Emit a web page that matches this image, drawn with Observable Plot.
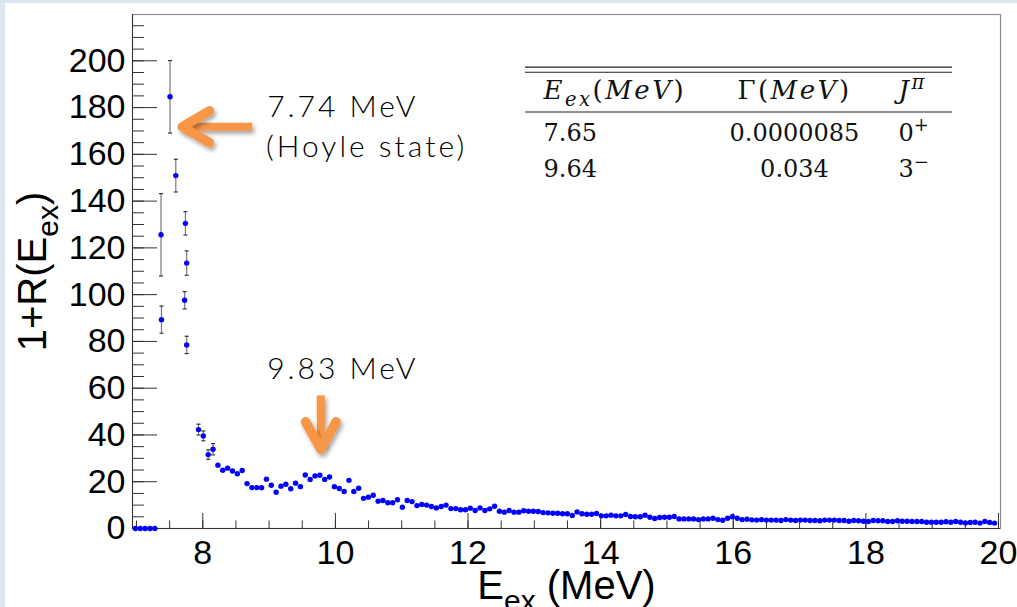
<!DOCTYPE html>
<html><head><meta charset="utf-8">
<script src="https://cdn.jsdelivr.net/npm/d3@7"></script>
<script src="https://cdn.jsdelivr.net/npm/@observablehq/plot@0.6"></script>
<style>
html,body{margin:0;padding:0;background:#dce6f2;width:1017px;height:607px;overflow:hidden;}
#chart{position:absolute;left:5px;top:3px;}
</style></head><body><div id="chart"></div>
<script>
// ---- Data: histogram 1+R(E_ex), ROOT-style binning (178 bins) ----
const histMin = 6.947, histBinWidth = 0.0732;
const histValues = [
  0, 0, 0, 0, 0,
  null, null, null, null, null, null, null, null,
  42.3, 39.6, 31.6, 33.9, 27.1, 24.9, 25.8, 24.6, 23.4, 24.8,
  19.2, 17.5, 17.5, 17.4, 21.1, 18.5, 15.5, 18.1, 18.9, 17.0,
  19.4, 17.9, 22.9, 21.0, 22.5, 22.8, 21.0, 22.0, 17.9, 17.1,
  15.8, 20.6, 15.8, 17.2, 12.9, 13.4, 14.2, 11.7, 12.0, 11.0,
  11.0, 12.3, 9.1, 12.0, 11.5, 9.8, 10.3, 10.0, 9.4, 8.8,
  9.4, 10.0, 8.5, 8.5,
  8.0, 8.0, 8.7, 7.7, 8.8, 7.7, 8.4, 9.5, 7.4, 7.0,
  7.7, 7.0, 7.0, 7.6, 7.4, 7.4, 7.3, 6.8, 6.7, 6.5,
  6.5, 6.3, 6.3, 5.6, 7.1, 6.3, 6.1, 6.1, 6.4, 5.4,
  5.4, 5.7, 5.4, 5.4, 6.0, 5.1, 5.0, 5.0, 5.7, 4.8,
  4.3, 4.7, 4.8, 4.8, 5.1, 4.1, 4.1, 4.1, 4.1, 3.8,
  4.1, 4.1, 4.4, 3.8, 3.5, 4.4, 5.0, 4.4,
  3.8, 4.0, 3.7, 3.6, 3.8, 3.6, 3.6, 3.6, 3.4, 3.8,
  3.6, 3.4, 3.6, 3.6, 3.4, 3.4, 3.3, 3.6, 3.6, 3.6,
  3.4, 3.4, 3.1, 3.4, 3.3, 3.1, 3.0, 3.4, 3.3, 3.3,
  3.0, 3.0, 3.3, 3.1, 3.1, 3.0, 3.0, 3.0, 2.7, 2.7,
  2.7, 2.7, 2.9, 2.7, 3.0, 2.7, 2.4, 2.6, 2.7, 2.3,
  3.0, 2.6, 2.3
];
const histErrBins = [13, 14, 15, 16];
const histErrValues = [2.3, 2.1, 2.0, 2.4];

// Hoyle-state region points (with error bars)
const hoyleE   = [7.370, 7.377, 7.506, 7.593, 7.727, 7.738, 7.757, 7.757];
const hoyleR   = [125.6, 89.3, 184.6, 150.9, 97.6, 130.5, 113.5, 78.5];
const hoyleErr = [17.6, 5.8, 15.5, 7.0, 3.7, 5.0, 5.2, 3.7];

// Axis ticks
const xMajorTicks = [8, 10, 12, 14, 16, 18, 20];
const yMajorTicks = [0, 20, 40, 60, 80, 100, 120, 140, 160, 180, 200];
const xMinorTicks = d3.range(7, 20.01, 0.5);
const yMinorTicks = d3.range(0, 216, 5);

// Texts
const xTitle = "E_{ex} (MeV)";
const yTitle = "1+R(E_{ex})";
const hoyleLabel = ["7.74 MeV", "(Hoyle state)"];
const peakLabel = "9.83 MeV";
const tableHeader = ["*E*_{*ex*}(*MeV*)", "Γ(*MeV*)", "*J*^{*π*}"];
const tableRows = [["7.65", "0.0000085", "0^{+}"], ["9.64", "0.034", "3^{−}"]];

// Annotation arrows (data coordinates)
const hoyleArrowShaft = [[8.745, 171.8], [7.70, 171.8]];
const hoyleArrowHead  = [[8.10, 178.6], [7.69, 171.8], [8.10, 165.0]];
const peakArrowShaft  = [[9.780, 56.9], [9.780, 35.0]];
const peakArrowHead   = [[9.55, 45.6], [9.780, 33.9], [10.01, 45.6]];

// ---- Build tables ----
const histData = histValues.map((v, i) => ({E: histMin + (i + 0.5) * histBinWidth, R: v})).filter(d => d.R !== null);
const errData = histErrBins.map((b, k) => ({E: histMin + (b + 0.5) * histBinWidth, lo: histValues[b] - histErrValues[k], hi: histValues[b] + histErrValues[k]}))
  .concat(hoyleE.map((e, i) => ({E: e, lo: hoyleR[i] - hoyleErr[i], hi: hoyleR[i] + hoyleErr[i]})));
const hoyleData = hoyleE.map((e, i) => ({E: e, R: hoyleR[i]}));
const pts = a => a.map(([x, y]) => ({x, y}));

const tableColX = [13.138, 16.923, 18.492];
const tableRowY = [183.8, 165.9, 150.2];
const tableCells = [];
tableRows.forEach((row, r) => row.forEach((t, c) => tableCells.push({t, c, x: tableColX[c], y: tableRowY[r + 1]})));
const headerCells = tableHeader.map((t, c) => ({t, c, x: tableColX[c], y: tableRowY[0]}));

const W = 1012, H = 604, mL = 127, mT = 11, mR = 17, mB = 79;
const fw = W - mL - mR, fh = H - mT - mB;
const capSymbol = {draw(ctx) { ctx.moveTo(-2, 0); ctx.lineTo(2, 0); }};
const orange = "#f79646";
const sans = "'Liberation Sans', Arial, Helvetica, sans-serif";
const serif = "'DejaVu Serif', serif";
const handFont = "Lato, 'Open Sans', sans-serif";
const annoText = {textAnchor: "start", lineAnchor: "bottom", fontSize: 30, fontWeight: 300, fontFamily: handFont, fill: "#000"};

const chart = Plot.plot({
  width: W, height: H, marginLeft: mL, marginTop: mT, marginRight: mR, marginBottom: mB,
  x: {domain: [6.94, 20.03]},
  y: {domain: [0, 219.8]},
  style: {background: "white", fontFamily: sans, overflow: "visible"},
  marks: [
    Plot.frame({stroke: "#8c8c8c", strokeWidth: 1.2}),
    Plot.tickY(yMinorTicks, {y: d => d, insetRight: fw - 12, stroke: "#333"}),
    Plot.tickY(yMajorTicks, {y: d => d, insetRight: fw - 25, stroke: "#333"}),
    Plot.tickX(xMinorTicks, {x: d => d, insetTop: fh - 7.5, stroke: "#333"}),
    Plot.tickX(xMajorTicks, {x: d => d, insetTop: fh - 15, stroke: "#333"}),
    Plot.ruleX([6.94], {stroke: "#333"}),
    Plot.ruleY([0], {stroke: "#333"}),
    Plot.axisY({ticks: yMajorTicks, tickSize: 0, tickPadding: 7, fontSize: 34, label: null, fill: "#000"}),
    Plot.axisX({ticks: xMajorTicks, tickSize: 0, tickPadding: 11, fontSize: 34, label: null, fill: "#000"}),
    Plot.text([yTitle], {text: d => d, frameAnchor: "left", rotate: -90, dx: -87, textAnchor: "middle", lineAnchor: "bottom", fontSize: 40, fill: "#000"}),
    Plot.text([xTitle], {text: d => d, frameAnchor: "bottom", dy: 70, textAnchor: "middle", lineAnchor: "bottom", fontSize: 40, fill: "#000"}),
    // error bars
    Plot.ruleX(errData, {x: "E", y1: "lo", y2: "hi", stroke: "#777", strokeWidth: 1.2}),
    Plot.dot(errData, {x: "E", y: "lo", symbol: capSymbol, stroke: "#333", fill: "none", strokeWidth: 1.2}),
    Plot.dot(errData, {x: "E", y: "hi", symbol: capSymbol, stroke: "#333", fill: "none", strokeWidth: 1.2}),
    // points
    Plot.dot(histData, {x: "E", y: "R", r: 2.7, fill: "#0000ff", stroke: null}),
    Plot.dot(hoyleData, {x: "E", y: "R", r: 2.7, fill: "#0000ff", stroke: null}),
    // table
    Plot.ruleY([197.3, 195.1, 178.1], {x1: 12.867, x2: 19.306, stroke: "#222", strokeWidth: 1.2}),
    Plot.text(tableCells.filter(d => d.c !== 1), {x: "x", y: "y", text: "t", textAnchor: "start", lineAnchor: "bottom", fontSize: 24, fontFamily: serif, fill: "#111"}),
    Plot.text(tableCells.filter(d => d.c === 1), {x: "x", y: "y", text: "t", textAnchor: "middle", lineAnchor: "bottom", fontSize: 24, fontFamily: serif, fill: "#111"}),
    Plot.text(headerCells.filter(d => d.c !== 1), {x: "x", y: "y", text: "t", textAnchor: "start", lineAnchor: "bottom", fontSize: 26, fontFamily: serif, fill: "#111"}),
    Plot.text(headerCells.filter(d => d.c === 1), {x: "x", y: "y", text: "t", textAnchor: "middle", lineAnchor: "bottom", fontSize: 26, fontFamily: serif, fill: "#111"}),
    // annotations
    Plot.line(pts(hoyleArrowShaft), {x: "x", y: "y", stroke: orange, strokeWidth: 8, strokeLinecap: "butt"}),
    Plot.line(pts(hoyleArrowHead), {x: "x", y: "y", stroke: orange, strokeWidth: 9.5, strokeLinecap: "round", strokeLinejoin: "round"}),
    Plot.line(pts(peakArrowShaft), {x: "x", y: "y", stroke: orange, strokeWidth: 8, strokeLinecap: "butt"}),
    Plot.line(pts(peakArrowHead), {x: "x", y: "y", stroke: orange, strokeWidth: 9.5, strokeLinecap: "round", strokeLinejoin: "round"}),
    Plot.text([hoyleLabel[0]], {text: d => d, x: 8.971, y: 175.9, ...annoText}),
    Plot.text([hoyleLabel[1]], {text: d => d, x: 8.955, y: 158.8, ...annoText}),
    Plot.text([peakLabel], {text: d => d, x: 8.971, y: 64.1, ...annoText})
  ]
});
document.getElementById("chart").appendChild(chart);

// ---- post-processing ----
const NS = "http://www.w3.org/2000/svg";
// drop shadow for the orange arrows (user-space region so straight lines keep their shadow)
const defs = document.createElementNS(NS, "defs");
defs.innerHTML = '<filter id="arrowShadow" filterUnits="userSpaceOnUse" x="0" y="0" width="' + W + '" height="' + H + '"><feDropShadow dx="2" dy="3" stdDeviation="2" flood-color="#000" flood-opacity="0.35"/></filter>';
chart.insertBefore(defs, chart.firstChild);
chart.querySelectorAll("g").forEach(el => {
  if ((el.getAttribute("stroke") || "").toLowerCase() === orange) el.setAttribute("filter", "url(#arrowShadow)");
});
// letter spacing
const annoSet = new Set([...hoyleLabel, peakLabel]);
const headerSet = new Set(tableHeader);
chart.querySelectorAll("text").forEach(t => {
  if (annoSet.has(t.textContent)) t.setAttribute("letter-spacing", "3");
  if (headerSet.has(t.textContent)) t.setAttribute("letter-spacing", "2.5");
});

// rich text: _{sub}, ^{sup}, *italic*
function parseRich(src) {
  const out = []; let italic = false, mode = 0, i = 0;
  while (i < src.length) {
    const c = src[i];
    if ((c === "_" || c === "^") && src[i + 1] === "{") { mode = c === "_" ? 1 : 2; i += 2; continue; }
    if (c === "}" && mode) { mode = 0; i++; continue; }
    if (c === "*") { italic = !italic; i++; continue; }
    const last = out[out.length - 1];
    if (last && last.italic === italic && last.mode === mode) last.s += c;
    else out.push({s: c, italic, mode});
    i++;
  }
  return out;
}
chart.querySelectorAll("text").forEach(t => {
  const src = t.textContent;
  if (!/[_^]\{|\*/.test(src)) return;
  const fs = parseFloat(getComputedStyle(t).fontSize) || 16;
  const parts = parseRich(src);
  while (t.firstChild) t.removeChild(t.firstChild);
  let shift = 0;
  parts.forEach(p => {
    const ts = document.createElementNS(NS, "tspan");
    ts.textContent = p.s;
    if (p.italic) ts.setAttribute("font-style", "italic");
    const target = p.mode === 1 ? 0.3 * fs : p.mode === 2 ? -0.38 * fs : 0;
    if (target !== shift) { ts.setAttribute("dy", target - shift); shift = target; }
    if (p.mode) ts.setAttribute("font-size", 0.75 * fs);
    t.appendChild(ts);
  });
});
</script>
</body></html>
